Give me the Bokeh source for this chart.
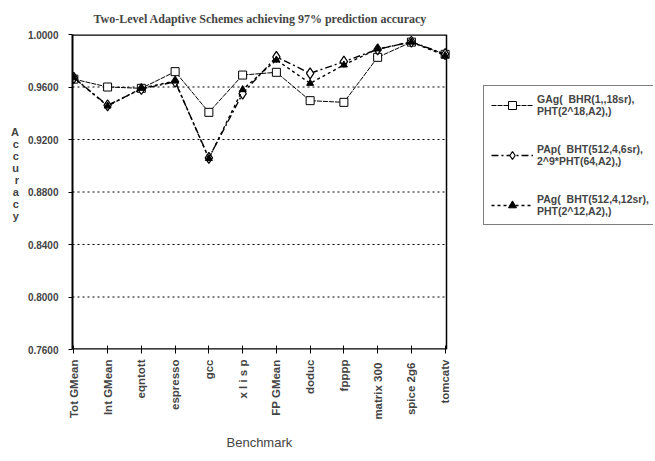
import numpy as np
from bokeh.plotting import figure
from bokeh.models import (Legend, LegendItem, FixedTicker, NumeralTickFormatter,
                          Range1d, ColumnDataSource, Title)
from bokeh.embed import file_html
from bokeh.resources import INLINE

categories = ["Tot GMean", "Int GMean", "eqntott", "espresso", "gcc", "x l i s p",
              "FP GMean", "doduc", "fpppp", "matrix  300", "spice  2g6", "tomcatv"]
gag = [0.9660, 0.9600, 0.9590, 0.9717, 0.9407, 0.9691, 0.9712, 0.9496, 0.9483, 0.9826, 0.9942, 0.9849]
pap = [0.9670, 0.9460, 0.9585, 0.9640, 0.9060, 0.9550, 0.9830, 0.9704, 0.9793, 0.9887, 0.9945, 0.9850]
pag = [0.9670, 0.9455, 0.9590, 0.9645, 0.9055, 0.9580, 0.9806, 0.9628, 0.9768, 0.9890, 0.9942, 0.9840]
y_ticks = [0.76, 0.80, 0.84, 0.88, 0.92, 0.96, 1.00]
labels = ["GAg(  BHR(1,,18sr),\nPHT(2^18,A2),)",
          "PAp(  BHT(512,4,6sr),\n2^9*PHT(64,A2),)",
          "PAg(  BHT(512,4,12sr),\nPHT(2^12,A2),)"]

x = list(range(len(categories)))
src = ColumnDataSource(dict(x=x, gag=gag, pap=pap, pag=pag))

# layout (pixels)
W, H = 655, 461
left, right, top, bottom = 72, 2, 34, 112
plot_w = 374                     # width of the actual chart box
pad = 0.04
x0 = -pad
x1 = len(categories) - 1 + pad
unit = plot_w / (x1 - x0)
frame_w = W - left - right
x_end = x0 + frame_w / unit
y0, y1 = y_ticks[0], y_ticks[-1]

p = figure(width=W, height=H, output_backend="svg", toolbar_location=None,
           x_range=Range1d(x0, x_end), y_range=Range1d(y0, y1),
           min_border_left=left, min_border_right=right, min_border_top=top,
           min_border_bottom=bottom)

p.title.text = "Two-Level Adaptive Schemes achieving 97% prediction accuracy"
p.title.text_font = "Liberation Serif"
p.title.text_font_style = "bold"
p.title.text_font_size = "12px"
p.title.align = "left"
p.title.offset = 21
p.title.standoff = 18

p.outline_line_color = None
p.background_fill_color = "white"
p.border_fill_color = "white"

# x axis
p.xaxis.ticker = FixedTicker(ticks=x)
p.xaxis.major_label_overrides = {i: c for i, c in enumerate(categories)}
p.xaxis.major_label_orientation = np.pi / 2
p.xaxis.major_label_text_font = "Liberation Sans"
p.xaxis.major_label_text_font_style = "bold"
p.xaxis.major_label_text_font_size = "11.5px"
p.xaxis.major_label_standoff = 6
p.xaxis.major_tick_in = 4
p.xaxis.major_tick_out = 4
p.xaxis.minor_tick_line_color = None
p.xaxis.axis_line_color = None
p.xaxis.major_tick_line_color = "black"

bench = Title(text="Benchmark", text_font="Liberation Sans", text_font_style="normal",
              text_font_size="13px", align="left", offset=154, standoff=21)
p.add_layout(bench, "below")

# y axis
p.yaxis.ticker = FixedTicker(ticks=y_ticks)
p.yaxis.formatter = NumeralTickFormatter(format="0.0000")
p.yaxis.major_label_text_font = "Liberation Sans"
p.yaxis.major_label_text_font_style = "bold"
p.yaxis.major_label_text_font_size = "10px"
p.yaxis.major_label_standoff = 10
p.yaxis.major_tick_in = 0
p.yaxis.major_tick_out = 4
p.yaxis.minor_tick_line_color = None
p.yaxis.axis_line_width = 2
p.yaxis.axis_line_color = "black"
p.yaxis.major_tick_line_color = "black"
p.yaxis.axis_label = "\n".join("Accuracy") + "\n \n \n "
p.yaxis.axis_label_orientation = "horizontal"
p.yaxis.axis_label_text_font = "Liberation Sans"
p.yaxis.axis_label_text_font_style = "bold"
p.yaxis.axis_label_text_font_size = "11px"
p.yaxis.axis_label_text_line_height = 1.0
p.yaxis.axis_label_standoff = 6

p.xgrid.grid_line_color = None
p.ygrid.grid_line_color = None

# chart box: dotted gridlines, bottom axis, top and right borders
inner = y_ticks[1:-1]
p.segment(x0=[x0] * len(inner), y0=inner, x1=[x1] * len(inner), y1=inner,
          line_color="black", line_dash="2 3", line_width=1)
p.segment(x0=[x0, x0], y0=[y0, y1], x1=[x1, x1], y1=[y0, y1],
          line_color="black", line_width=2.6)
p.segment(x0=[x1], y0=[y0], x1=[x1], y1=[y1], line_color="black", line_width=1.5)

# series
l1 = p.line("x", "gag", source=src, line_color="black", line_width=1, line_dash="5 1")
m1 = p.scatter("x", "gag", source=src, marker="square", size=8, fill_color="white",
               line_color="black", line_width=1)
l2 = p.line("x", "pap", source=src, line_color="black", line_width=1.4, line_dash="7 3 2 3")
m2 = p.scatter("x", "pap", source=src, marker="diamond", size=11, fill_color="white",
               line_color="black", line_width=1.2)
l3 = p.line("x", "pag", source=src, line_color="black", line_width=1.4, line_dash="3 3")
m3 = p.scatter("x", "pag", source=src, marker="triangle", size=7, fill_color="black",
               line_color="black", line_width=1)

legend = Legend(items=[LegendItem(label=labels[0], renderers=[l1, m1]),
                       LegendItem(label=labels[1], renderers=[l2, m2]),
                       LegendItem(label=labels[2], renderers=[l3, m3])],
                location=(411, 124))
legend.label_text_font = "Liberation Sans"
legend.label_text_font_style = "bold"
legend.label_text_font_size = "10.5px"
legend.glyph_width = 42
legend.label_standoff = 4
legend.spacing = 26
legend.padding = 7
legend.border_line_color = "black"
legend.border_line_width = 1.5
legend.background_fill_color = "white"
legend.background_fill_alpha = 1
p.add_layout(legend, "center")

open("out.html", "w").write(file_html(p, INLINE))
